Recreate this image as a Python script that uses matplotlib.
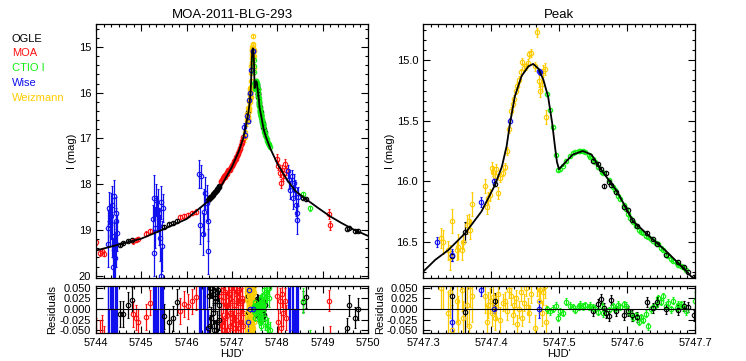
import matplotlib
matplotlib.use('Agg')
import matplotlib.pyplot as plt
from matplotlib.ticker import MultipleLocator, FormatStrFormatter

plt.rcParams['font.family'] = ['Liberation Sans', 'DejaVu Sans']

# ---- data (HJD', I mag, mag error, residual, residual error)
t_ogle = [5744.52, 5744.60, 5744.70, 5744.79,
          5745.50, 5745.60, 5745.69, 5745.78,
          5746.48, 5746.51, 5746.54, 5746.57, 5746.60, 5746.63, 5746.66, 5746.69, 5746.72,
          5746.495, 5746.525, 5746.555, 5746.585, 5746.615, 5746.645, 5746.675, 5746.705,
          5747.342, 5747.362, 5747.406,
          5747.550, 5747.557, 5747.562, 5747.566, 5747.569, 5747.573, 5747.577, 5747.584,
          5747.595, 5747.601, 5747.607, 5747.615, 5747.630, 5747.639, 5747.644, 5747.658,
          5747.675, 5747.684, 5747.690, 5747.699, 5747.720,
          5748.57, 5748.64, 5749.53, 5749.58, 5749.72, 5749.78]
mag_ogle = [19.32, 19.29, 19.24, 19.21,
            18.93, 18.88, 18.85, 18.80,
            18.34, 18.30, 18.27, 18.23, 18.20, 18.16, 18.12, 18.09, 18.05,
            18.33, 18.28, 18.25, 18.22, 18.17, 18.14, 18.11, 18.06,
            16.62, 16.42, 16.02,
            15.83, 15.86, 15.90, 16.04, 15.93, 16.01, 16.03, 16.09,
            16.21, 16.24, 16.32, 16.37, 16.43, 16.48, 16.52, 16.61,
            16.67, 16.71, 16.75, 16.79, 16.86,
            18.30, 18.33, 18.97, 18.95, 19.03, 19.02]
err_ogle = [0.03] * 8 + [0.02] * 17 + [0.04, 0.08, 0.02] + [0.015] * 21 + [0.03] * 6
res_ogle = [-0.012, -0.012, 0.010, 0.022,
            -0.017, -0.030, -0.022, 0.017,
            -0.045, 0.050, -0.020, 0.035, -0.050, 0.020, -0.030, 0.045, 0.010,
            0.030, -0.040, 0.050, -0.010, 0.025, -0.050, 0.040, -0.025,
            0.030, -0.007, 0.018,
            -0.005, 0.011, 0.024, 0.003, -0.009, -0.017, 0.021, -0.005,
            -0.013, -0.005, -0.015, -0.018, 0.017, 0.003, 0.017, 0.001,
            -0.003, 0.007, 0.005, -0.015, 0.010,
            0.017, 0.028, -0.045, 0.009, -0.020, 0.000]
rerr_ogle = [0.03] * 8 + [0.025] * 17 + [0.03, 0.06, 0.02] + [0.012] * 21 + [0.025] * 6

t_moa = [5744.00, 5744.08, 5744.13, 5744.18,
         5744.82, 5744.88, 5744.93, 5745.10, 5745.19,
         5745.85, 5745.93, 5746.02, 5746.12, 5746.20,
         5746.75, 5746.78, 5746.81, 5746.84, 5746.87, 5746.90, 5746.93, 5746.96, 5746.99,
         5747.02, 5747.05, 5747.08, 5747.11, 5747.14, 5747.17, 5747.20, 5747.23, 5747.25,
         5746.765, 5746.795, 5746.825, 5746.855, 5746.885, 5746.915, 5746.945, 5746.975, 5747.005,
         5747.035, 5747.065, 5747.095, 5747.125, 5747.155, 5747.185, 5747.215, 5747.240,
         5747.99, 5748.02, 5748.06, 5748.08, 5748.10, 5748.13, 5748.17, 5748.20,
         5749.14, 5749.16]
mag_moa = [19.27, 19.50, 19.46, 19.52,
           19.25, 19.22, 19.20, 19.08, 19.02,
           18.72, 18.70, 18.67, 18.63, 18.60,
           17.95, 17.90, 17.86, 17.84, 17.78, 17.74, 17.70, 17.66, 17.60,
           17.55, 17.50, 17.44, 17.38, 17.31, 17.24, 17.15, 17.06, 16.97,
           17.93, 17.86, 17.83, 17.79, 17.77, 17.70, 17.69, 17.62, 17.58,
           17.51, 17.47, 17.40, 17.35, 17.27, 17.20, 17.10, 17.02,
           17.45, 17.60, 17.75, 17.98, 17.68, 17.82, 17.55, 17.70,
           18.65, 18.90]
err_moa = [0.06] * 4 + [0.05] * 10 + [0.04] * 35 + [0.1] * 8 + [0.1, 0.1]
res_moa = [-0.070, -0.075, -0.065, -0.090,
           -0.012, -0.020, -0.030, -0.018, 0.015,
           -0.005, 0.012, 0.006, 0.018, 0.028,
           0.030, -0.040, 0.045, -0.020, 0.010, -0.050, 0.035, -0.010, 0.020,
           -0.035, 0.050, -0.025, 0.040, -0.045, 0.015, -0.030, 0.025, -0.010,
           -0.030, 0.020, -0.050, 0.040, -0.015, 0.030, -0.040, 0.050, -0.020,
           0.010, -0.045, 0.035, -0.005, 0.045, -0.030, 0.020, -0.040,
           0.030, -0.030, 0.020, -0.045, 0.035, -0.010, 0.020, -0.020,
           0.020, -0.070]
rerr_moa = [0.05] * 4 + [0.03] * 10 + [0.03] * 35 + [0.03] * 8 + [0.025, 0.03]

t_ctio = [5747.483, 5747.487, 5747.491, 5747.495, 5747.499, 5747.502, 5747.506, 5747.511, 5747.516, 5747.521,
          5747.524, 5747.529, 5747.531, 5747.536, 5747.538, 5747.544, 5747.546, 5747.550, 5747.553, 5747.558,
          5747.563, 5747.565, 5747.573, 5747.580, 5747.583, 5747.587, 5747.590, 5747.595, 5747.598, 5747.602,
          5747.605, 5747.609, 5747.613, 5747.617, 5747.620, 5747.624, 5747.628, 5747.631, 5747.635, 5747.639,
          5747.643, 5747.646, 5747.650, 5747.653, 5747.658, 5747.661, 5747.665, 5747.668, 5747.673, 5747.675,
          5747.680, 5747.683, 5747.687, 5747.700, 5747.720, 5747.750, 5747.780, 5747.810, 5747.840,
          5747.710, 5747.735, 5747.765, 5747.795, 5747.825,
          5748.56, 5748.72]
mag_ctio = [15.28, 15.41, 15.55, 15.78, 15.91, 15.90, 15.87, 15.83, 15.79, 15.77,
            15.76, 15.75, 15.75, 15.75, 15.76, 15.78, 15.80, 15.82, 15.84, 15.88,
            15.92, 15.93, 15.99, 16.05, 16.07, 16.12, 16.15, 16.20, 16.23, 16.27,
            16.30, 16.34, 16.37, 16.40, 16.42, 16.43, 16.45, 16.46, 16.48, 16.49,
            16.51, 16.52, 16.55, 16.57, 16.60, 16.62, 16.64, 16.66, 16.68, 16.69,
            16.70, 16.71, 16.73, 16.82, 16.88, 16.97, 17.05, 17.12, 17.18,
            16.85, 16.93, 17.01, 17.09, 17.15,
            18.22, 18.53]
err_ctio = [0.008] * 53 + [0.02] * 11 + [0.05, 0.05]
res_ctio = [-0.001, -0.005, 0.001, 0.008, -0.020, -0.005, -0.009, 0.017, 0.008, 0.004,
            -0.002, 0.006, 0.010, 0.006, 0.009, 0.005, 0.008, 0.003, 0.001, -0.006,
            0.008, -0.010, -0.003, 0.006, -0.001, 0.010, 0.005, 0.012, 0.008, -0.004,
            -0.009, -0.020, -0.015, -0.030, -0.019, -0.025, -0.011, -0.040, -0.001, 0.005,
            0.009, 0.025, 0.017, 0.030, 0.008, 0.015, -0.001, 0.020, 0.003, 0.010,
            0.011, 0.004, -0.005, 0.020, -0.030, 0.040, -0.045, 0.025, -0.050,
            0.045, -0.020, 0.030, -0.040, 0.050,
            0.020, -0.080]
rerr_ctio = [0.008] * 53 + [0.02] * 11 + [0.03, 0.03]

t_wise = [5744.26, 5744.29, 5744.33, 5744.36, 5744.39, 5744.41, 5744.43, 5744.45, 5744.47,
          5744.27, 5744.31, 5744.35, 5744.38, 5744.40, 5744.44,
          5745.25, 5745.28, 5745.32, 5745.36, 5745.39, 5745.41, 5745.44, 5745.47,
          5745.27, 5745.30, 5745.34, 5745.43, 5745.46,
          5746.27, 5746.32, 5746.35, 5746.40, 5746.44, 5746.48,
          5746.30, 5746.38, 5746.46,
          5747.270, 5747.290, 5747.320, 5747.342, 5747.385, 5747.405, 5747.428, 5747.470, 5747.472,
          5748.24, 5748.28, 5748.32, 5748.37, 5748.41, 5748.43, 5748.44, 5748.46,
          5748.26, 5748.35, 5748.39]
mag_wise = [18.96, 18.52, 18.70, 19.14, 19.43, 19.61, 18.81, 18.63, 19.07,
            19.30, 18.90, 18.45, 19.80, 18.25, 19.30,
            18.76, 19.50, 18.34, 18.56, 18.92, 19.18, 20.00, 18.52,
            18.30, 18.95, 18.65, 18.40, 19.35,
            17.78, 17.83, 19.09, 18.19, 18.41, 19.47,
            18.90, 18.60, 18.80,
            16.74, 16.92, 16.50, 16.61, 16.17, 16.00, 15.50, 15.09, 15.10,
            17.72, 18.12, 17.83, 17.98, 18.45, 18.78, 18.63, 18.27,
            17.90, 18.30, 18.10]
err_wise = [0.40, 0.35, 0.50, 0.45, 0.60, 0.50, 0.30, 0.35, 0.40,
            0.50, 0.45, 0.40, 0.60, 0.35, 0.50,
            0.30, 0.50, 0.35, 0.45, 0.40, 0.50, 0.60, 0.30,
            0.50, 0.45, 0.40, 0.35, 0.55,
            0.30, 0.25, 0.45, 0.35, 0.40, 0.50,
            0.40, 0.50, 0.45,
            0.08, 0.08, 0.04, 0.05, 0.04, 0.03, 0.02, 0.02, 0.02,
            0.15, 0.20, 0.15, 0.20, 0.25, 0.30, 0.20, 0.20,
            0.20, 0.25, 0.20]
res_wise = [0.30, -0.40, 0.20, -0.30, 0.50, -0.20, 0.40, -0.50, 0.10,
            -0.30, 0.40, -0.20, 0.30, -0.40, 0.20,
            0.30, -0.40, 0.20, -0.30, 0.50, -0.20, 0.40, -0.10,
            -0.30, 0.20, -0.40, 0.30, -0.20,
            0.20, -0.30, 0.40, -0.20, 0.30, -0.50,
            -0.20, 0.30, -0.40,
            0.30, -0.30, -0.14, -0.03, 0.045, 0.000, 0.20, 0.000, -0.10,
            0.30, -0.20, 0.25, -0.30, 0.20, -0.25, 0.30, -0.20,
            -0.25, 0.20, -0.30]
rerr_wise = ([0.4] * 34 + [0.4] * 3
             + [0.08, 0.08, 0.04, 0.03, 0.015, 0.01, 0.02, 0.02, 0.02]
             + [0.3] * 8 + [0.3] * 3)

t_wei = [5747.280, 5747.290, 5747.327, 5747.330, 5747.337, 5747.340, 5747.343, 5747.350, 5747.352, 5747.357,
         5747.359, 5747.364, 5747.367, 5747.369, 5747.372, 5747.391, 5747.394, 5747.396, 5747.399, 5747.401,
         5747.403, 5747.406, 5747.408, 5747.410, 5747.413, 5747.417, 5747.420, 5747.423, 5747.426, 5747.429,
         5747.432, 5747.434, 5747.437, 5747.439, 5747.441, 5747.444, 5747.446, 5747.449, 5747.451, 5747.454,
         5747.456, 5747.459, 5747.465, 5747.467, 5747.471, 5747.472, 5747.475, 5747.477, 5747.479, 5747.481]
mag_wei = [16.97, 16.85, 16.47, 16.50, 16.57, 16.63, 16.33, 16.57, 16.54, 16.57,
           16.50, 16.36, 16.33, 16.40, 16.19, 16.04, 16.21, 16.14, 16.11, 15.89,
           15.92, 15.96, 15.90, 16.10, 15.97, 15.93, 15.88, 15.75, 15.57, 15.42,
           15.36, 15.32, 15.25, 15.21, 15.16, 15.10, 15.01, 15.06, 15.05, 15.02,
           14.95, 14.94, 15.05, 14.77, 15.17, 15.25, 15.20, 15.09, 15.07, 15.47]
err_wei = [0.10, 0.10, 0.08, 0.10, 0.08, 0.10, 0.10, 0.08, 0.10, 0.08,
           0.06, 0.08, 0.06, 0.08, 0.10, 0.06, 0.06, 0.05, 0.05, 0.05,
           0.04, 0.04, 0.04, 0.05, 0.04, 0.03, 0.03, 0.03, 0.03, 0.03,
           0.03, 0.03, 0.03, 0.03, 0.03, 0.03, 0.03, 0.03, 0.03, 0.03,
           0.03, 0.03, 0.04, 0.04, 0.05, 0.05, 0.05, 0.05, 0.05, 0.06]
res_wei = [0.080, -0.070, 0.050, 0.060, -0.010, 0.040, -0.050, 0.020, -0.030, 0.045,
           -0.020, 0.010, -0.040, 0.055, 0.030, 0.030, -0.030, 0.010, 0.020, -0.010,
           0.028, -0.020, 0.005, 0.035, -0.025, 0.015, 0.020, -0.005, 0.045, 0.030,
           -0.015, 0.010, 0.025, -0.035, 0.000, 0.040, -0.020, 0.015, 0.050, 0.005,
           -0.010, 0.035, -0.045, 0.060, 0.020, 0.045, -0.010, 0.040, 0.055, -0.030]
rerr_wei = [0.06, 0.06, 0.05, 0.06, 0.05, 0.06, 0.06, 0.05, 0.06, 0.05,
            0.04, 0.05, 0.04, 0.05, 0.06, 0.04, 0.04, 0.03, 0.03, 0.03,
            0.03, 0.03, 0.03, 0.03, 0.03, 0.02, 0.02, 0.02, 0.02, 0.02,
            0.02, 0.02, 0.02, 0.02, 0.02, 0.02, 0.02, 0.02, 0.02, 0.02,
            0.02, 0.02, 0.03, 0.03, 0.03, 0.03, 0.03, 0.03, 0.03, 0.04]

# model light curve
t_model = [5744.00, 5744.50, 5745.00, 5745.50, 5746.00, 5746.50, 5746.75, 5747.00, 5747.15, 5747.25,
           5747.298, 5747.318, 5747.337, 5747.362, 5747.386, 5747.406, 5747.416, 5747.423, 5747.428,
           5747.435, 5747.445, 5747.455, 5747.462, 5747.470, 5747.477, 5747.484, 5747.490, 5747.494,
           5747.497, 5747.500, 5747.510, 5747.520, 5747.535, 5747.548, 5747.560, 5747.585, 5747.609,
           5747.634, 5747.658, 5747.683, 5747.695, 5747.75, 5747.84, 5748.00, 5748.21, 5748.40,
           5748.65, 5748.90, 5749.16, 5749.40, 5749.68, 5750.00]
mag_model = [19.45, 19.32, 19.19, 18.98, 18.76, 18.35, 18.06, 17.62, 17.28, 16.99,
             16.76, 16.65, 16.57, 16.43, 16.25, 16.03, 15.88, 15.71, 15.52,
             15.30, 15.13, 15.05, 15.03, 15.07, 15.16, 15.30, 15.52, 15.71,
             15.84, 15.90, 15.84, 15.78, 15.75, 15.78, 15.89, 16.08, 16.33,
             16.46, 16.58, 16.72, 16.79, 16.97, 17.21, 17.55, 17.90, 18.15,
             18.34, 18.52, 18.70, 18.84, 18.99, 19.13]

labels = ['OGLE', 'MOA', 'CTIO I', 'Wise', 'Weizmann']
colors = ['black', '#ff1010', '#11ee11', '#1010ee', '#ffcc00']

ogle = (t_ogle, mag_ogle, err_ogle, res_ogle, rerr_ogle, colors[0])
moa = (t_moa, mag_moa, err_moa, res_moa, rerr_moa, colors[1])
ctio = (t_ctio, mag_ctio, err_ctio, res_ctio, rerr_ctio, colors[2])
wise = (t_wise, mag_wise, err_wise, res_wise, rerr_wise, colors[3])
wei = (t_wei, mag_wei, err_wei, res_wei, rerr_wei, colors[4])

fig = plt.figure(figsize=(7.46, 3.61), dpi=100)
ax1 = fig.add_axes([0.1287, 0.2299, 0.3646, 0.7036])
ax1r = fig.add_axes([0.1287, 0.0776, 0.3646, 0.1302])
ax2 = fig.add_axes([0.5670, 0.2299, 0.3646, 0.7036])
ax2r = fig.add_axes([0.5670, 0.0776, 0.3646, 0.1302])


def draw(ax, x, y, e, c):
    ax.errorbar(x, y, yerr=e, fmt='o', ms=3.2, mfc='none', mec=c, mew=0.8,
                ecolor=c, elinewidth=0.9, capsize=1.0, capthick=0.6)


# the full light curve: OGLE drawn under the peak data
for t, m, e, r, re, c in (moa, ogle, wei, ctio, wise):
    draw(ax1, t, m, e, c)
    draw(ax1r, t, r, re, c)
# the peak zoom: OGLE on top of CTIO
for t, m, e, r, re, c in (moa, wei, ctio, ogle, wise):
    draw(ax2, t, m, e, c)
    draw(ax2r, t, r, re, c)

for ax in (ax1, ax2):
    ax.plot(t_model, mag_model, color='black', lw=1.3, zorder=5)
for ax in (ax1r, ax2r):
    ax.axhline(0, color='black', lw=0.8, zorder=5)

for ax in (ax1, ax1r, ax2, ax2r):
    ax.tick_params(which='both', direction='in', top=True, right=True, labelsize=8, width=0.8)
    ax.tick_params(which='major', length=5)
    ax.tick_params(which='minor', length=2.5)
    for s in ax.spines.values():
        s.set_linewidth(0.9)

# left panels
ax1.set_xlim(5744, 5750)
ax1.set_ylim(20.05, 14.5)
ax1.xaxis.set_major_locator(MultipleLocator(1))
ax1.xaxis.set_minor_locator(MultipleLocator(1 / 6))
ax1.yaxis.set_major_locator(MultipleLocator(1))
ax1.yaxis.set_minor_locator(MultipleLocator(0.2))
ax1.tick_params(labelbottom=False)
ax1.set_title('MOA-2011-BLG-293', fontsize=9.5, pad=4)
ax1.set_ylabel('I (mag)', fontsize=8)
ax1.yaxis.set_label_coords(-0.070, 0.5)

ax1r.set_xlim(5744, 5750)
ax1r.xaxis.set_major_locator(MultipleLocator(1))
ax1r.xaxis.set_minor_locator(MultipleLocator(1 / 6))
ax1r.xaxis.set_major_formatter(FormatStrFormatter('%d'))

# right panels
ax2.set_xlim(5747.3, 5747.7)
ax2.set_ylim(16.8, 14.7)
ax2.xaxis.set_major_locator(MultipleLocator(0.1))
ax2.xaxis.set_minor_locator(MultipleLocator(0.1 / 9))
ax2.yaxis.set_major_locator(MultipleLocator(0.5))
ax2.yaxis.set_minor_locator(MultipleLocator(0.5 / 6))
ax2.yaxis.set_major_formatter(FormatStrFormatter('%.1f'))
ax2.tick_params(labelbottom=False)
ax2.set_title('Peak', fontsize=9.5, pad=4)
ax2.set_ylabel('I (mag)', fontsize=8)
ax2.yaxis.set_label_coords(-0.103, 0.5)

ax2r.set_xlim(5747.3, 5747.7)
ax2r.xaxis.set_major_locator(MultipleLocator(0.1))
ax2r.xaxis.set_minor_locator(MultipleLocator(0.1 / 9))
ax2r.xaxis.set_major_formatter(FormatStrFormatter('%.1f'))

for ax, lx in ((ax1r, -0.143), (ax2r, -0.140)):
    ax.set_ylim(-0.056, 0.054)
    ax.set_yticks([-0.05, -0.025, 0.0, 0.025, 0.05])
    ax.yaxis.set_major_formatter(FormatStrFormatter('%.3f'))
    ax.set_ylabel('Residuals', fontsize=8)
    ax.yaxis.set_label_coords(lx, 0.5)
    ax.set_xlabel("HJD'", fontsize=8, labelpad=1)

# observatory labels on the left
ys = [0.892, 0.853, 0.811, 0.770, 0.728]
for lab, c, y in zip(labels, colors, ys):
    fig.text(0.016, y, lab, color=c, fontsize=8, va='center', ha='left')

fig.savefig('out.png', dpi=100)
